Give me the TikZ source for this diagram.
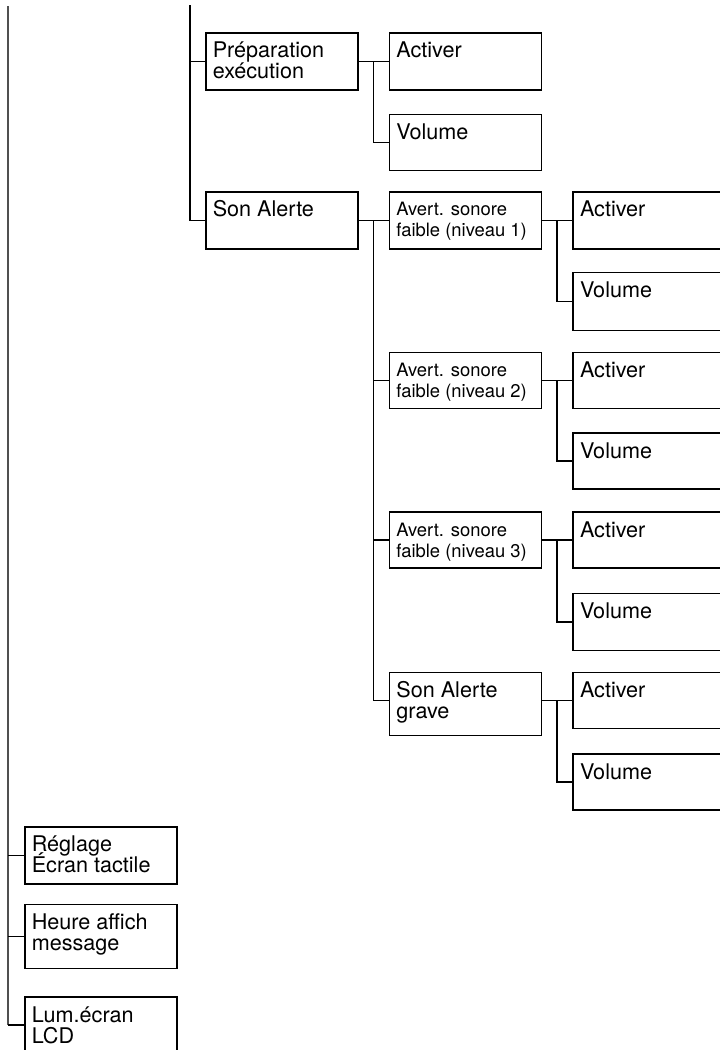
\documentclass[tikz,border=0pt]{standalone}
\usepackage{fontspec}
\setmainfont{TeX Gyre Heros}
\usetikzlibrary{positioning}
\definecolor{trunkgray}{HTML}{505050}
% text of one menu box: [first baseline]{box height}{lines}
\newcommand{\mtext}[3][25pt]{\parbox[t][#2][t]{138pt}{\raggedright
  \setlength{\lineskiplimit}{-30pt}\rule{0pt}{#1}#3}}

\begin{document}
\begin{tikzpicture}[
    x=1pt, y=-1pt, node distance=30pt,
    box/.style={draw,line width=1.6pt,inner xsep=7pt,inner ysep=0pt,
                anchor=north west,font=\fontsize{21.6}{21}\selectfont},
    smallbox/.style={box,font=\fontsize{18.4}{21}\selectfont},
    link/.style={line width=1.6pt},
    trunk/.style={line width=1.7pt,trunkgray}
  ]
    \useasboundingbox (0,0) rectangle (720,1050);

    % Préparation exécution
    \node[box] (prep) at (205,32) {\mtext{57pt}{Préparation\\exécution}};
    \node[box, right=of prep] (actprep) {\mtext{57pt}{Activer}};
    \node[box, below=23pt of actprep] (volprep) {\mtext{56pt}{Volume}};

    % Son Alerte
    \node[box] (son) at (205,191) {\mtext{57pt}{Son Alerte}};
    \node[smallbox, right=of son] (avone) {\mtext[24pt]{57pt}{Avert. sonore\\faible (niveau 1)}};
    \node[box, right=of avone] (actone) {\mtext{57pt}{Activer}};
    \node[box, below=22pt of actone] (volone) {\mtext{58pt}{Volume}};

    \node[smallbox, below=102pt of avone] (avtwo) {\mtext[24pt]{56pt}{Avert. sonore\\faible (niveau 2)}};
    \node[box, right=of avtwo] (acttwo) {\mtext{56pt}{Activer}};
    \node[box, below=23pt of acttwo] (voltwo) {\mtext{56pt}{Volume}};

    \node[smallbox, below=102pt of avtwo] (avthree) {\mtext[24pt]{56pt}{Avert. sonore\\faible (niveau 3)}};
    \node[box, right=of avthree] (actthree) {\mtext{56pt}{Activer}};
    \node[box, below=24pt of actthree] (volthree) {\mtext{57pt}{Volume}};

    \node[box, below=103pt of avthree] (grave) {\mtext{63pt}{Son Alerte\\grave}};
    \node[box, right=of grave.north east, anchor=north west] (actfour) {\mtext{56pt}{Activer}};
    \node[box, below=24pt of actfour] (volfour) {\mtext{56pt}{Volume}};

    % lower items
    \node[box] (reg) at (24,826) {\mtext{57pt}{Réglage\\Écran tactile}};
    \node[box, below=19pt of reg] (heure) {\mtext{64pt}{Heure affich\\message}};
    \node[box, below=27pt of heure] (lum) {\mtext{56pt}{Lum.écran\\LCD}};

    \coordinate (topleft) at (8,6);
    \coordinate (topmid) at (190,5);

    \draw[trunk] (topleft) -- (topleft |- lum.west);
    \draw[link] (topleft |- reg.west) -- (reg.west);
    \draw[link] (topleft |- heure.west) -- (heure.west);
    \draw[link] (topleft |- lum.west) -- (lum.west);

    \draw[link] (topmid) |- (son.west);
    \draw[link] (topmid |- prep.west) -- (prep.west);
    \draw[link] (prep.east) -- (actprep.west);
    \draw[link] (prep.east) ++(15,0) |- (volprep.west);

    \draw[link] (son.east) -- (avone.west);
    \draw[link] (son.east) ++(15,0) |- (grave.west |- actfour.west);
    \draw[link] (son.east) ++(15,0) |- (avtwo.west);
    \draw[link] (son.east) ++(15,0) |- (avthree.west);

    \draw[link] (avone.east) -- (actone.west);
    \draw[link] (avone.east) ++(15,0) |- (volone.west);
    \draw[link] (avtwo.east) -- (acttwo.west);
    \draw[link] (avtwo.east) ++(15,0) |- (voltwo.west);
    \draw[link] (avthree.east) -- (actthree.west);
    \draw[link] (avthree.east) ++(15,0) |- (volthree.west);
    \draw[link] (grave.east |- actfour.west) -- (actfour.west);
    \draw[link] (grave.east |- actfour.west) ++(15,0) |- (volfour.west);
  \end{tikzpicture}
\end{document}
